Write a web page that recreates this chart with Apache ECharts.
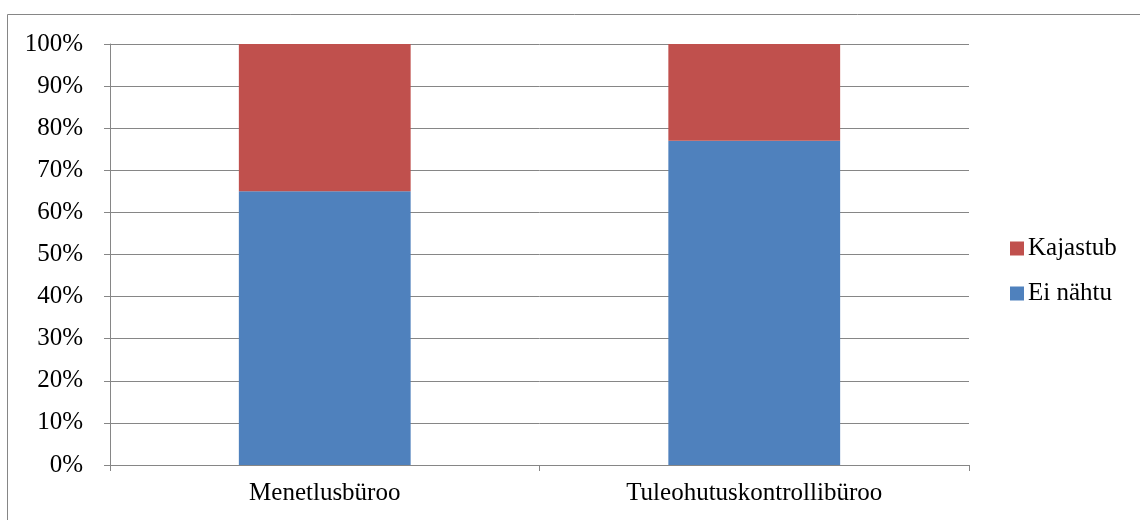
<!DOCTYPE html>
<html>
<head>
<meta charset="utf-8">
<script src="https://cdn.jsdelivr.net/npm/echarts@6/dist/echarts.min.js"></script>
<style>
html,body{margin:0;padding:0;background:#fff;}
#c{width:1140px;height:520px;}
</style>
</head>
<body>
<div id="c"></div>
<script>
var categories = ['Menetlusbüroo', 'Tuleohutuskontrollibüroo'];
var eiNahtu = [65, 77];
var kajastub = [35, 23];
var yTicks = ['0%','10%','20%','30%','40%','50%','60%','70%','80%','90%','100%'];

var FONT = '"Liberation Serif", "Times New Roman", serif';
var GRAY = '#868686';
var chart = echarts.init(document.getElementById('c'), null, {renderer: 'canvas'});
chart.setOption({
  animation: false,
  backgroundColor: '#fff',
  graphic: [{
    type: 'rect',
    shape: {x: 7.5, y: 14.5, width: 1200, height: 600},
    style: {fill: 'none', stroke: GRAY, lineWidth: 1},
    silent: true, z: -10
  }],
  grid: {left: 110, right: 171, top: 44, bottom: 55, containLabel: false},
  legend: {
    orient: 'vertical',
    left: 1010,
    top: 236,
    padding: 0,
    itemWidth: 14,
    itemHeight: 14,
    itemGap: 20,
    icon: 'rect',
    data: ['Kajastub', 'Ei nähtu'],
    textStyle: {fontFamily: FONT, fontSize: 25, color: '#000', padding: [0,0,0,-1]}
  },
  xAxis: {
    type: 'category',
    data: categories,
    boundaryGap: true,
    axisLine: {lineStyle: {color: GRAY, width: 1}},
    axisTick: {show: true, length: 6, lineStyle: {color: GRAY}},
    axisLabel: {fontFamily: FONT, fontSize: 25, color: '#000', margin: 16}
  },
  yAxis: {
    type: 'value',
    min: 0, max: 100, interval: 10,
    axisLine: {show: true, lineStyle: {color: GRAY, width: 1}},
    axisTick: {show: true, length: 6, lineStyle: {color: GRAY}},
    splitLine: {show: true, lineStyle: {color: GRAY, width: 1}},
    axisLabel: {
      fontFamily: FONT, fontSize: 25, color: '#000', margin: 27,
      formatter: function (v) { return yTicks[Math.round(v / 10)]; }
    }
  },
  series: [
    {name: 'Ei nähtu', type: 'bar', stack: 's', data: eiNahtu, barWidth: '40%',
     itemStyle: {color: '#4F81BD'}},
    {name: 'Kajastub', type: 'bar', stack: 's', data: kajastub, barWidth: '40%',
     itemStyle: {color: '#C0504D'}}
  ]
});
</script>
</body>
</html>
